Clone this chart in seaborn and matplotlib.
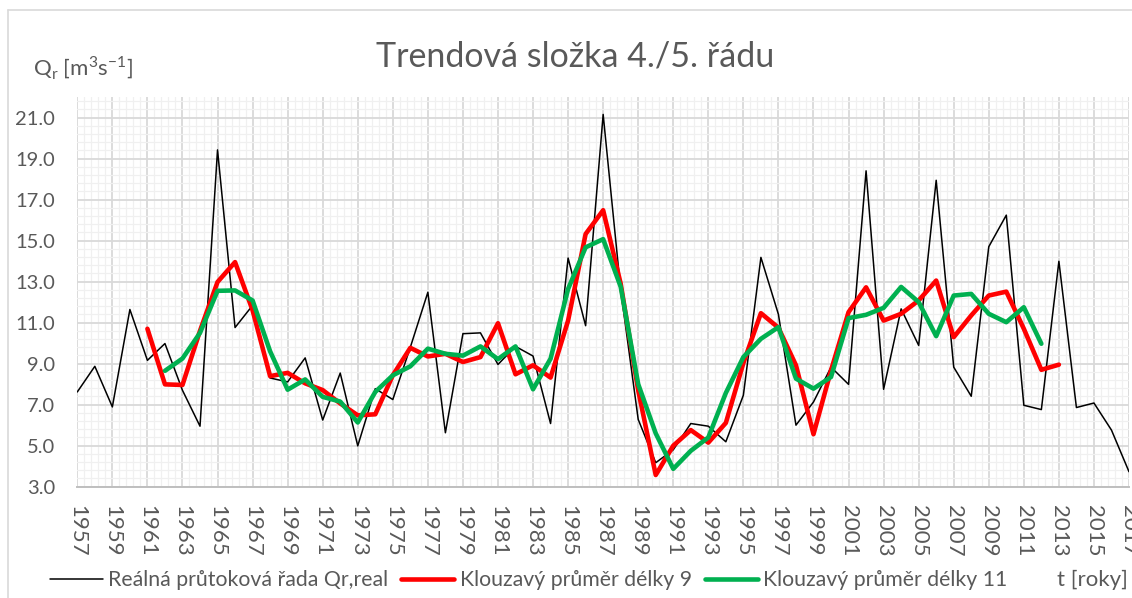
import numpy as np
import pandas as pd
import matplotlib
matplotlib.use("Agg")
import matplotlib.pyplot as plt
from matplotlib.lines import Line2D
from matplotlib.ticker import FixedLocator, FormatStrFormatter
import seaborn as sns

# ---------------- data ----------------
years_real = list(range(1957, 2018))
q_real = [7.62, 8.87, 6.89, 11.64, 9.16, 9.98, 7.70, 5.95, 19.42, 10.76,
          11.84, 8.30, 8.11, 9.28, 6.25, 8.54, 4.99, 7.78, 7.25, 9.80,
          12.48, 5.63, 10.46, 10.50, 8.96, 9.84, 9.37, 6.08, 14.15, 10.85,
          21.15, 12.60, 6.28, 4.17, 4.80, 6.08, 5.95, 5.19, 7.46, 14.18,
          11.40, 6.00, 7.13, 8.83, 7.99, 18.40, 7.75, 11.67, 9.89, 17.94,
          8.83, 7.41, 14.70, 16.24, 6.97, 6.76, 13.99, 6.86, 7.08, 5.76,
          3.73]

years_ma9 = list(range(1961, 2014))
q_ma9 = [10.70, 7.99, 7.96, 10.60, 12.98, 13.95, 11.60, 8.39, 8.55, 8.04,
         7.71, 7.06, 6.48, 6.53, 8.43, 9.77, 9.35, 9.48, 9.08, 9.32,
         10.97, 8.48, 8.92, 8.32, 11.10, 15.32, 16.48, 12.90, 7.70, 3.57,
         5.00, 5.76, 5.15, 6.11, 9.03, 11.46, 10.75, 8.92, 5.56, 8.67,
         11.51, 12.72, 11.10, 11.43, 12.08, 13.05, 10.29, 11.35, 12.32, 12.51,
         10.70, 8.70, 8.95]

years_ma11 = list(range(1962, 2013))
q_ma11 = [8.65, 9.25, 10.50, 12.55, 12.57, 12.08, 9.60, 7.73, 8.23, 7.38,
          7.15, 6.13, 7.62, 8.43, 8.87, 9.73, 9.48, 9.39, 9.84, 9.22,
          9.84, 7.75, 9.24, 12.64, 14.67, 15.07, 12.75, 8.00, 5.60, 3.87,
          4.75, 5.40, 7.57, 9.32, 10.21, 10.78, 8.27, 7.78, 8.35, 11.22,
          11.38, 11.72, 12.74, 12.00, 10.34, 12.32, 12.40, 11.43, 11.02, 11.75,
          9.97]

labels = ["Reálná průtoková řada Qr,real",
          "Klouzavý průměr délky 9",
          "Klouzavý průměr délky 11"]
x_ticks = list(range(1957, 2018, 2))
y_ticks = [3.0, 5.0, 7.0, 9.0, 11.0, 13.0, 15.0, 17.0, 19.0, 21.0]
title = "Trendová složka 4./5. řádu"

# ---------------- style ----------------
sns.set_theme(style="white")
plt.rcParams["font.family"] = ["Lato", "DejaVu Sans"]
plt.rcParams["mathtext.fontset"] = "custom"
plt.rcParams["mathtext.rm"] = "Lato"

TXT = "#595959"
W, H = 1132, 598
fig = plt.figure(figsize=(W / 100, H / 100), dpi=100)
ax = fig.add_axes([77.3 / W, 1 - 486.7 / H, (1129 - 77.3) / W, (486.7 - 97) / H])

df_real = pd.DataFrame({"t": years_real, "q": q_real})
df9 = pd.DataFrame({"t": years_ma9, "q": q_ma9})
df11 = pd.DataFrame({"t": years_ma11, "q": q_ma11})

sns.lineplot(data=df_real, x="t", y="q", ax=ax, color="black", lw=1.1, zorder=3)
sns.lineplot(data=df9, x="t", y="q", ax=ax, color="#ff0000", lw=3.3, zorder=4)
sns.lineplot(data=df11, x="t", y="q", ax=ax, color="#00b050", lw=3.3, zorder=5)

ax.set_xlim(1957, 2017)
ax.set_ylim(3, 22)
ax.xaxis.set_major_locator(FixedLocator(x_ticks))
ax.yaxis.set_major_locator(FixedLocator(y_ticks))
ax.xaxis.set_minor_locator(FixedLocator(np.arange(1957, 2017.01, 0.4)))
ax.yaxis.set_minor_locator(FixedLocator(np.arange(3, 22.01, 0.4)))
ax.yaxis.set_major_formatter(FormatStrFormatter("%.1f"))
ax.grid(which="major", color="#d9d9d9", lw=1.3, zorder=1)
ax.grid(which="minor", color="#f0f0f0", lw=0.9, zorder=0)
ax.set_axisbelow(True)
ax.set_xlabel("")
ax.set_ylabel("")
for s in ["top", "right", "left"]:
    ax.spines[s].set_visible(False)
ax.spines["bottom"].set_color("#bfbfbf")
ax.spines["bottom"].set_linewidth(1.4)

ax.tick_params(axis="y", which="both", length=0, pad=16, labelsize=14.5, labelcolor=TXT)
ax.tick_params(axis="x", which="both", length=0, pad=13, labelsize=16, labelcolor=TXT)
for lab in ax.get_xticklabels():
    lab.set_rotation(-90)
    lab.set_ha("center")
    lab.set_va("top")

# title and axis labels
fig.text(575 / W, 1 - 57 / H, title, ha="center", va="center", fontsize=24.5, color=TXT)
fig.text(33 / W, 1 - 68 / H,
         r"Q$_\mathregular{r}$ [m$^\mathregular{3}$s$^\mathregular{-1}$]",
         ha="left", va="center", fontsize=16, color=TXT)
fig.text(1057 / W, 1 - 580 / H, "t [roky]", ha="left", va="center",
         fontsize=16, color=TXT)

# legend
handles = [Line2D([], [], color="black", lw=1.1),
           Line2D([], [], color="#ff0000", lw=3.3),
           Line2D([], [], color="#00b050", lw=3.3)]
leg = fig.legend(handles, labels, loc="center left",
                 bbox_to_anchor=(50 / W, 1 - 580 / H), ncol=3, frameon=False,
                 fontsize=15.3, handlelength=2.5, handletextpad=0.25,
                 columnspacing=0.6, borderaxespad=0, borderpad=0)
for t in leg.get_texts():
    t.set_color(TXT)

# chart-area border (top and left visible)
fig.add_artist(Line2D([8 / W, 1], [1 - 10 / H, 1 - 10 / H], transform=fig.transFigure,
                      color="#d9d9d9", lw=1.2))
fig.add_artist(Line2D([8 / W, 8 / W], [1 - 10 / H, 0], transform=fig.transFigure,
                      color="#d9d9d9", lw=1.2))

fig.savefig("out.png", dpi=100)
